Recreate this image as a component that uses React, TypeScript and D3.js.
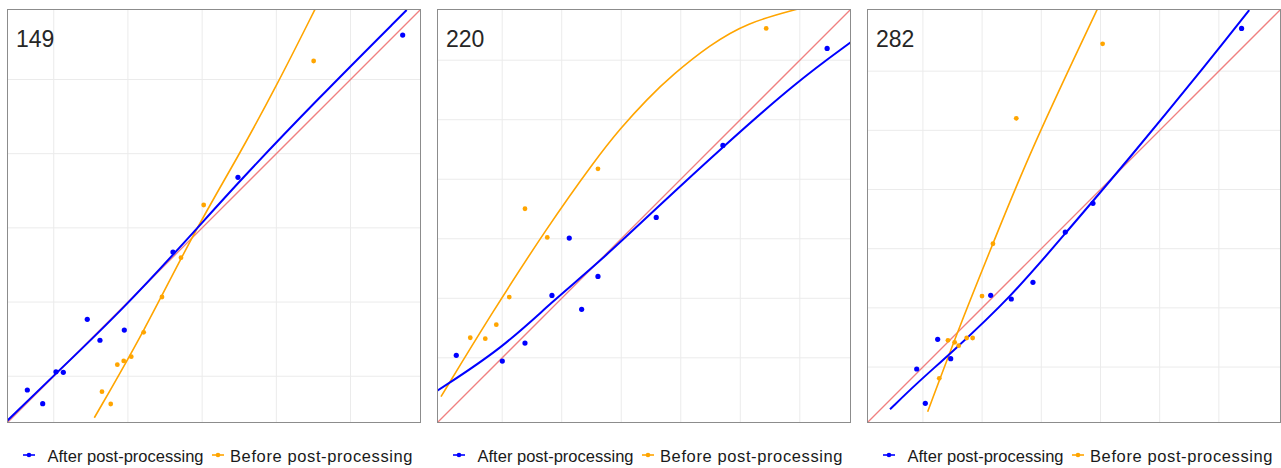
import React from 'react';
import * as d3 from 'd3';

// panel titles and plot ranges (same range on both axes, y = x reference)
const panelLabels = ['149', '220', '282'];
const panelDomains: [number, number][] = [[0.37, 5.95], [-0.095, 6.86], [0.055, 7.05]];
const gridTicks = [[1, 2, 3, 4, 5], [1, 2, 3, 4, 5, 6], [1, 2, 3, 4, 5, 6]];

const seriesNames = ['After post-processing', 'Before post-processing'];
const seriesColors = ['#0000ff', '#ffa500'];

// points, [x, y]
const after149 = [[0.644, 0.815], [0.851, 0.63], [1.03, 1.061], [1.129, 1.053], [1.452, 1.768], [1.623, 1.485], [1.951, 1.623], [2.607, 2.675], [3.483, 3.681], [5.703, 5.599]];
const before149 = [[1.65, 0.792], [1.768, 0.626], [1.857, 1.156], [1.943, 1.206], [2.045, 1.264], [2.212, 1.592], [2.459, 2.068], [2.715, 2.598], [3.021, 3.308], [4.503, 5.249]];
const after220 = [[0.229, 1.042], [1.002, 0.946], [1.383, 1.248], [1.836, 2.049], [2.127, 3.012], [2.335, 1.814], [2.609, 2.368], [3.588, 3.359], [4.708, 4.568], [6.459, 6.197]];
const before220 = [[0.464, 1.337], [0.716, 1.321], [0.901, 1.556], [1.119, 2.021], [1.383, 3.504], [1.757, 3.023], [2.609, 4.175], [5.435, 6.533]];
const after282 = [[0.895, 0.967], [1.04, 0.388], [1.249, 1.469], [1.469, 1.141], [2.145, 2.212], [2.493, 2.15], [2.859, 2.432], [3.405, 3.281], [3.873, 3.766], [6.384, 6.722]];
const before282 = [[1.276, 0.81], [1.423, 1.452], [1.536, 1.418], [1.604, 1.361], [1.739, 1.491], [1.84, 1.491], [1.998, 2.2], [2.183, 3.084], [2.577, 5.202], [4.036, 6.462]];

// fitted curves
const afterFit149 = [[0.374, 0.401], [0.994, 1.003], [1.951, 1.92], [2.877, 2.931], [3.483, 3.61], [4.544, 4.723], [5.757, 5.936]];
const beforeFit149 = [[1.547, 0.441], [2.212, 1.592], [2.881, 2.927], [3.483, 3.955], [4.009, 4.925], [4.521, 5.945]];
const afterFit220 = [[-0.09, 0.447], [1.002, 1.159], [1.836, 1.942], [2.609, 2.587], [3.588, 3.51], [4.708, 4.545], [5.945, 5.636], [6.866, 6.308]];
const beforeFit220 = [[-0.028, 0.347], [0.795, 1.703], [1.752, 3.188], [2.592, 4.363], [2.978, 4.845], [3.431, 5.344], [3.868, 5.759], [4.489, 6.256], [5.111, 6.629], [5.95, 6.856]];
const afterFit282 = [[0.444, 0.286], [0.895, 0.726], [1.469, 1.232], [2.493, 2.188], [3.405, 3.259], [4.442, 4.469], [5.849, 6.187], [6.513, 7.031]];
const beforeFit282 = [[1.08, 0.246], [1.626, 1.71], [2.183, 3.084], [2.808, 4.638], [3.945, 7.043]];

const afterPoints = [after149, after220, after282];
const beforePoints = [before149, before220, before282];
const afterFits = [afterFit149, afterFit220, afterFit282];
const beforeFits = [beforeFit149, beforeFit220, beforeFit282];

const W = 1281;
const H = 468;
const panelLeft = [7, 437, 867];
const panelTop = 9;
const panelSize = 414;
const legendWidths = [156, 182.5];

const Panel = ({ i }: { i: number }) => {
  const left = panelLeft[i];
  const x = d3.scaleLinear().domain(panelDomains[i]).range([left, left + panelSize]);
  const y = d3.scaleLinear().domain(panelDomains[i]).range([panelTop + panelSize, panelTop]);
  const line = d3.line<number[]>()
    .x(d => x(d[0]))
    .y(d => y(d[1]))
    .curve(d3.curveBasis);
  const [lo, hi] = panelDomains[i];
  const clipId = `clip-${i}`;
  const legendY = 455;

  return (
    <g>
      <defs>
        <clipPath id={clipId}>
          <rect x={left} y={panelTop} width={panelSize} height={panelSize} />
        </clipPath>
      </defs>
      <rect x={left} y={panelTop} width={panelSize} height={panelSize} fill="#fff" />
      {gridTicks[i].map(t => (
        <g key={t}>
          <line x1={x(t)} x2={x(t)} y1={panelTop} y2={panelTop + panelSize} stroke="#ebebeb" strokeWidth={1} />
          <line x1={left} x2={left + panelSize} y1={y(t)} y2={y(t)} stroke="#ebebeb" strokeWidth={1} />
        </g>
      ))}
      <g clipPath={`url(#${clipId})`}>
        <line x1={x(lo)} y1={y(lo)} x2={x(hi)} y2={y(hi)} stroke="#f08080" strokeWidth={1.3} />
        <path d={line(beforeFits[i]) || ''} fill="none" stroke={seriesColors[1]} strokeWidth={1.6} />
        <path d={line(afterFits[i]) || ''} fill="none" stroke={seriesColors[0]} strokeWidth={2} />
        {beforePoints[i].map((d, k) => (
          <circle key={'b' + k} cx={x(d[0])} cy={y(d[1])} r={2.4} fill={seriesColors[1]} />
        ))}
        {afterPoints[i].map((d, k) => (
          <circle key={'a' + k} cx={x(d[0])} cy={y(d[1])} r={2.6} fill={seriesColors[0]} />
        ))}
      </g>
      <rect x={left + 0.5} y={panelTop + 0.5} width={panelSize - 1} height={panelSize - 1} fill="none" stroke="#8c8c8c" strokeWidth={1} />
      <text x={left + 9} y={panelTop + 38} fontSize={23} fill="#262626" fontFamily="Liberation Sans, Arial, sans-serif">
        {panelLabels[i]}
      </text>
      {/* legend */}
      {seriesNames.map((name, k) => {
        const mx = left + (k === 0 ? 16 : 205);
        const tx = left + (k === 0 ? 40.5 : 223);
        return (
          <g key={name}>
            <line x1={mx} x2={mx + 12} y1={legendY} y2={legendY} stroke={seriesColors[k]} strokeWidth={1.6} />
            <circle cx={mx + 6} cy={legendY} r={2.3} fill={seriesColors[k]} />
            <text x={tx} y={462} fontSize={16.5} fill="#1a1a1a" textLength={legendWidths[k]}
              fontFamily="Liberation Sans, Arial, sans-serif">
              {name}
            </text>
          </g>
        );
      })}
    </g>
  );
};

export default function App() {
  return (
    <svg width={W} height={H} style={{ position: 'absolute', left: 0, top: 0, background: '#fff' }}>
      <rect width={W} height={H} fill="#fff" />
      {[0, 1, 2].map(i => <Panel key={i} i={i} />)}
    </svg>
  );
}
